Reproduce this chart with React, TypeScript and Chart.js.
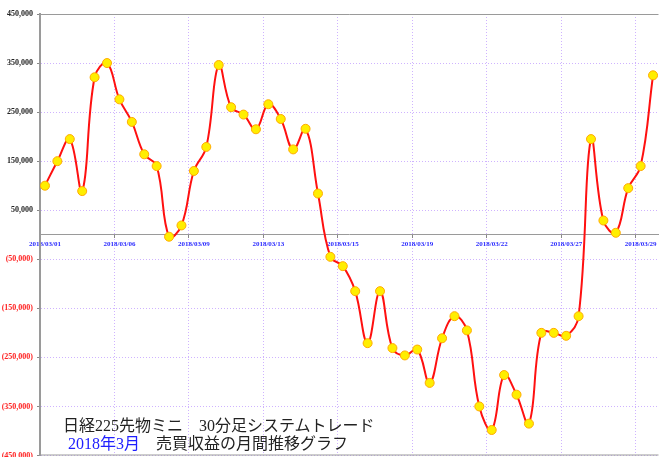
import React, { useEffect, useRef } from "react";
import { Chart, registerables } from "chart.js";

Chart.register(...registerables);

const xDateLabels = [
  "2018/03/01", "2018/03/06", "2018/03/09", "2018/03/13", "2018/03/15",
  "2018/03/19", "2018/03/22", "2018/03/27", "2018/03/29",
];
const pointsPerLabel = 6;

const yTickValues = [
  -450000, -350000, -250000, -150000, -50000, 50000, 150000, 250000, 350000, 450000,
];

const profit = [
  100000, 150000, 195000, 89000, 321000, 350000, 276000, 230000, 164000, 140000,
  -4000, 19000, 130000, 179000, 346000, 260000, 245000, 215000, 266000, 236000,
  174000, 216000, 84000, -45000, -64000, -115000, -221000, -115000, -231000, -246000,
  -234000, -302000, -211000, -166000, -195000, -350000, -398000, -286000, -326000, -385000,
  -200000, -200000, -206000, -166000, 195000, 29000, 4000, 95000, 140000, 325000,
];

const titleLine1 = "日経225先物ミニ　30分足システムトレード";
const titleLine2a = "2018年3月";
const titleLine2b = "　売買収益の月間推移グラフ";

const fmt = (v: number) => {
  const s = Math.abs(v).toLocaleString("en-US");
  return v < 0 ? `(${s})` : s;
};

const framePlugin = {
  id: "frame",
  beforeDatasetsDraw(chart: any) {
    const { ctx, chartArea } = chart;
    ctx.save();
    ctx.strokeStyle = "#9a9a9a";
    ctx.lineWidth = 1;
    ctx.setLineDash([]);
    ctx.beginPath();
    ctx.moveTo(chartArea.left, chartArea.top + 0.5);
    ctx.lineTo(chartArea.right, chartArea.top + 0.5);
    ctx.moveTo(chartArea.left, chartArea.bottom - 0.5);
    ctx.lineTo(chartArea.right, chartArea.bottom - 0.5);
    ctx.stroke();
    ctx.lineWidth = 2;
    ctx.beginPath();
    ctx.moveTo(chartArea.left, chartArea.top);
    ctx.lineTo(chartArea.left, chartArea.bottom);
    ctx.stroke();
    ctx.restore();
  },
};

export default function App() {
  const ref = useRef<HTMLCanvasElement>(null);

  useEffect(() => {
    if (!ref.current) return;
    const gridColor = "rgba(195,160,255,0.8)";
    const chart = new Chart(ref.current, {
      type: "line",
      data: {
        datasets: [
          {
            data: profit.map((v, i) => ({ x: i, y: v })),
            borderColor: "#ff1010",
            borderWidth: 2,
            tension: 0.4,
            pointRadius: 4.5,
            pointBackgroundColor: "#ffee00",
            pointBorderColor: "#ffaa00",
            pointBorderWidth: 1,
            fill: false,
          },
        ],
      },
      options: {
        responsive: false,
        animation: false,
        layout: { padding: { top: 14, bottom: 0, right: 1, left: 0 } },
        plugins: { legend: { display: false }, tooltip: { enabled: false } },
        scales: {
          x: {
            type: "linear",
            min: -0.4,
            max: 49.44,
            position: { y: 0 } as any,
            afterBuildTicks: (scale: any) => {
              scale.ticks = xDateLabels.map((_, k) => ({ value: k * pointsPerLabel - 0.4 }));
            },
            afterFit: (scale: any) => {
              scale.height = 0;
              scale.paddingLeft = 0;
              scale.paddingRight = 0;
            },
            ticks: {
              autoSkip: false,
              maxRotation: 0,
              labelOffset: 5,
              padding: 2,
              color: "#2a2aff",
              font: { family: "'Liberation Serif', serif", size: 7, weight: "bold" },
              callback: (_v: any, i: number) => xDateLabels[i],
            },
            grid: {
              color: gridColor,
              lineWidth: 1,
              tickLength: 3,
              tickColor: "#888",
            },
            border: { display: true, color: "#9a9a9a", width: 1, dash: [1, 2] },
          },
          y: {
            type: "linear",
            min: -450000,
            max: 450000,
            afterBuildTicks: (scale: any) => {
              scale.ticks = yTickValues.map((v) => ({ value: v }));
            },
            afterFit: (scale: any) => {
              scale.width = 40;
              scale.paddingTop = 0;
              scale.paddingBottom = 0;
            },
            ticks: {
              padding: 4,
              color: (c: any) => (c.tick && c.tick.value < 0 ? "#ff2020" : "#222"),
              font: { family: "'Liberation Serif', serif", size: 8, weight: "bold" },
              callback: (v: any) => fmt(Number(v)),
            },
            grid: {
              color: gridColor,
              lineWidth: 1,
              tickLength: 3,
              tickColor: "#888",
            },
            border: { display: true, color: "#9a9a9a", width: 2, dash: [1, 2] },
          },
        },
      },
      plugins: [framePlugin],
    });
    return () => chart.destroy();
  }, []);

  const titleFont = "'Liberation Serif', 'Noto Sans CJK JP', serif";

  return (
    <div style={{ position: "fixed", left: 0, top: 0, width: 664, height: 457, background: "#fff", overflow: "hidden" }}>
      <canvas ref={ref} width={664} height={461} style={{ display: "block" }} />
      <div
        style={{
          position: "absolute", left: 63, top: 417, fontFamily: titleFont, fontSize: 16,
          lineHeight: "18px", color: "#222", whiteSpace: "nowrap",
        }}
      >
        {titleLine1}
      </div>
      <div
        style={{
          position: "absolute", left: 68, top: 435, fontFamily: titleFont, fontSize: 16,
          lineHeight: "18px", color: "#222", whiteSpace: "nowrap",
        }}
      >
        <span style={{ color: "#2020ff" }}>{titleLine2a}</span>
        {titleLine2b}
      </div>
    </div>
  );
}
